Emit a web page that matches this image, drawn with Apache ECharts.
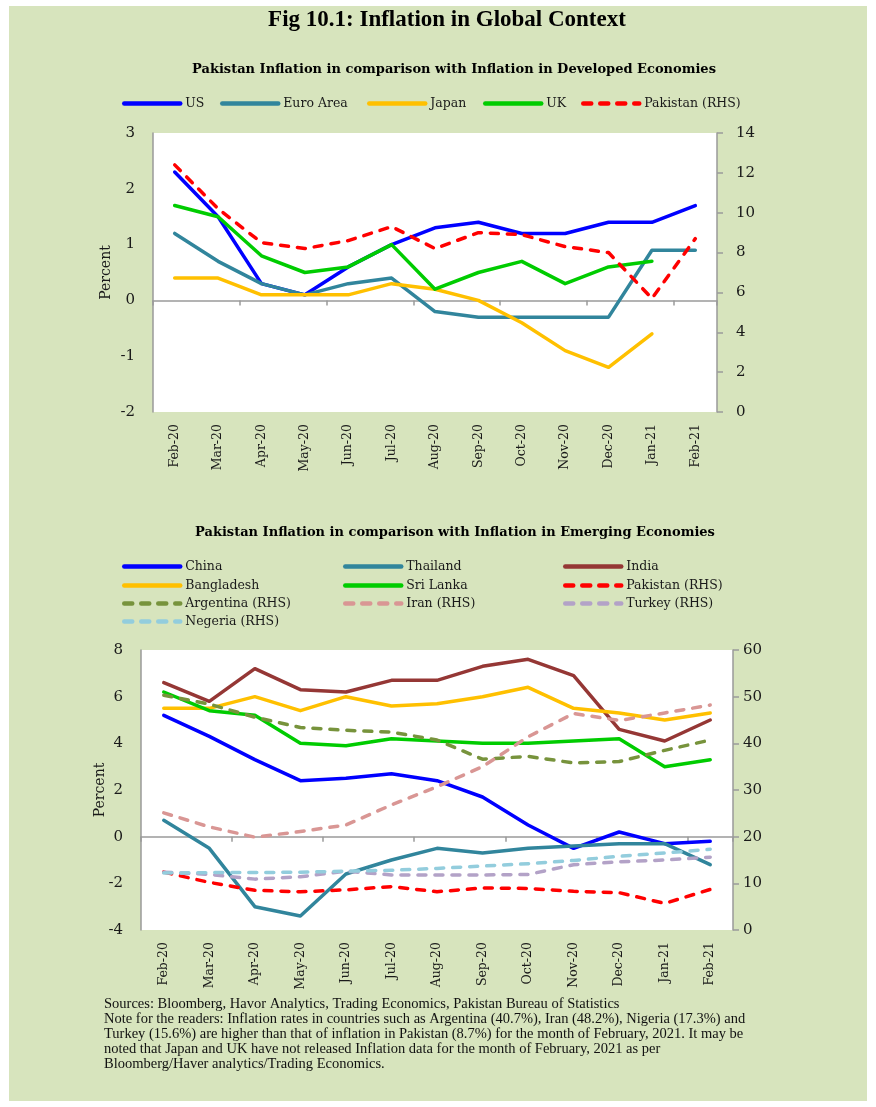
<!DOCTYPE html>
<html><head><meta charset="utf-8">
<script src="https://cdn.jsdelivr.net/npm/echarts@6/dist/echarts.min.js"></script>
<style>
html,body{margin:0;padding:0;background:#fff;}
#bg{position:absolute;left:9px;top:6px;width:858px;height:1095px;background:#d7e4bd;}
#chart{position:absolute;left:0;top:0;width:876px;height:1107px;}
</style></head>
<body><div id="bg"></div><div id="chart"></div>
<script>
// ---- categories ----
const months = ['Feb-20','Mar-20','Apr-20','May-20','Jun-20','Jul-20','Aug-20','Sep-20','Oct-20','Nov-20','Dec-20','Jan-21','Feb-21'];

// ---- developed economies (percent) ----
const us       = [2.3, 1.5, 0.3, 0.1, 0.6, 1.0, 1.3, 1.4, 1.2, 1.2, 1.4, 1.4, 1.7];
const euroArea = [1.2, 0.7, 0.3, 0.1, 0.3, 0.4, -0.2, -0.3, -0.3, -0.3, -0.3, 0.9, 0.9];
const japan    = [0.4, 0.4, 0.1, 0.1, 0.1, 0.3, 0.2, 0.0, -0.4, -0.9, -1.2, -0.6, null];
const uk       = [1.7, 1.5, 0.8, 0.5, 0.6, 1.0, 0.2, 0.5, 0.7, 0.3, 0.6, 0.7, null];
const pakistan = [12.4, 10.2, 8.5, 8.2, 8.6, 9.3, 8.2, 9.0, 8.9, 8.3, 8.0, 5.7, 8.7];

// ---- emerging economies (percent) ----
const china      = [5.2, 4.3, 3.3, 2.4, 2.5, 2.7, 2.4, 1.7, 0.5, -0.5, 0.2, -0.3, -0.2];
const thailand   = [0.7, -0.5, -3.0, -3.4, -1.6, -1.0, -0.5, -0.7, -0.5, -0.4, -0.3, -0.3, -1.2];
const india      = [6.6, 5.8, 7.2, 6.3, 6.2, 6.7, 6.7, 7.3, 7.6, 6.9, 4.6, 4.1, 5.0];
const bangladesh = [5.5, 5.5, 6.0, 5.4, 6.0, 5.6, 5.7, 6.0, 6.4, 5.5, 5.3, 5.0, 5.3];
const sriLanka   = [6.2, 5.4, 5.2, 4.0, 3.9, 4.2, 4.1, 4.0, 4.0, 4.1, 4.2, 3.0, 3.3];
const argentina  = [50.3, 48.4, 45.6, 43.4, 42.8, 42.4, 40.7, 36.6, 37.2, 35.8, 36.1, 38.5, 40.7];
const iran       = [25.1, 22.1, 19.9, 21.1, 22.5, 26.8, 30.7, 35.0, 41.4, 46.4, 44.9, 46.5, 48.2];
const turkey     = [12.4, 11.9, 10.9, 11.4, 12.6, 11.8, 11.8, 11.8, 11.9, 14.0, 14.6, 15.0, 15.6];
const nigeria    = [12.2, 12.3, 12.3, 12.4, 12.6, 12.8, 13.2, 13.7, 14.2, 14.9, 15.8, 16.5, 17.3];

// ---- texts ----
const mainTitle = 'Fig 10.1: Inflation in Global Context';
const subTitle1 = 'Pakistan Inflation in comparison with Inflation in Developed Economies';
const subTitle2 = 'Pakistan Inflation in comparison with Inflation in Emerging Economies';
const footLines = [
  'Sources: Bloomberg, Havor Analytics, Trading Economics, Pakistan Bureau of Statistics',
  'Note for the readers: Inflation rates in countries such as Argentina (40.7%), Iran (48.2%), Nigeria (17.3%) and',
  'Turkey (15.6%) are higher than that of inflation in Pakistan (8.7%) for the month of February, 2021. It may be',
  'noted that Japan and UK have not released Inflation data for the month of February, 2021 as per',
  'Bloomberg/Haver analytics/Trading Economics.'
];

const SERIF = 'DejaVu Serif';
const AX = '#9a9a9a';
const TXT = '#1a1a1a';

function solid(name, data, color, xi, yi) {
  return {name, type:'line', data, xAxisIndex:xi, yAxisIndex:yi, symbol:'none', connectNulls:false,
    lineStyle:{color, width:3.5, join:'round', cap:'round'}, itemStyle:{color}};
}
function dashed(name, data, color, xi, yi) {
  return {name, type:'line', data, xAxisIndex:xi, yAxisIndex:yi, symbol:'none', connectNulls:false,
    lineStyle:{color, width:3.5, type:[8,9], cap:'round', join:'round'}, itemStyle:{color}};
}
function leg(name, x, y) {
  return {left:x, top:y-7, data:[name], itemWidth:56, itemHeight:14, padding:0, selectedMode:false,
    itemStyle:{opacity:0}, lineStyle:{width:4.5},
    textStyle:{fontFamily:SERIF, fontSize:12.5, color:TXT}};
}
function catAxes(gi, labelMargin, zeroIdx) {
  return [
    {gridIndex:gi, type:'category', data:months, boundaryGap:true, position:'bottom',
     axisLine:{show:false, onZero:false}, axisTick:{show:false},
     axisLabel:{rotate:90, margin:labelMargin, fontFamily:SERIF, fontSize:12.5, color:TXT}},
    {gridIndex:gi, type:'category', data:months, boundaryGap:true, position:'bottom',
     axisLine:{show:true, onZero:true, onZeroAxisIndex:zeroIdx, lineStyle:{color:AX, width:1.5}},
     axisTick:{show:true, length:5, inside:false, lineStyle:{color:AX, width:1.5}},
     axisLabel:{show:false}}
  ];
}
function valAxis(gi, pos, min, max, interval, margin, ticks, name, nameGap) {
  const a = {gridIndex:gi, type:'value', position:pos, min, max, interval,
    axisLine:{show:true, lineStyle:{color:AX, width:1.5}},
    axisTick:{show:ticks, length:6, lineStyle:{color:AX, width:1.5}},
    splitLine:{show:false},
    axisLabel:{margin, fontFamily:SERIF, fontSize:15, color:TXT}};
  if (name) {
    a.name = name; a.nameLocation = 'middle'; a.nameRotate = 90; a.nameGap = nameGap;
    a.nameMoveOverlap = false;
    a.nameTextStyle = {fontFamily:SERIF, fontSize:14, color:TXT};
  }
  return a;
}

const graphics = [
  {type:'text', x:447, y:20, style:{text:mainTitle, textAlign:'center', textVerticalAlign:'middle',
    font:'bold 23px "Liberation Serif"', fill:'#000'}},
  {type:'text', x:454, y:70, style:{text:subTitle1, textAlign:'center', textVerticalAlign:'middle',
    font:'bold 13px "DejaVu Serif"', fill:'#000'}},
  {type:'text', x:455, y:533, style:{text:subTitle2, textAlign:'center', textVerticalAlign:'middle',
    font:'bold 13px "DejaVu Serif"', fill:'#000'}}
];
footLines.forEach((t, i) => graphics.push({type:'text', x:104, y:1004 + i*15, style:{text:t,
  textAlign:'left', textVerticalAlign:'middle', font:'14.5px "Liberation Serif"', fill:'#111'}}));

const option = {
  animation:false,
  backgroundColor:'transparent',
  graphic:graphics,
  grid:[
    {left:153, top:133, width:564, height:279, show:true, backgroundColor:'#fff', borderWidth:0, containLabel:false},
    {left:141, top:650, width:592, height:280, show:true, backgroundColor:'#fff', borderWidth:0, containLabel:false}
  ],
  legend:[
    leg('US',122,104), leg('Euro Area',220,104), leg('Japan',367,104), leg('UK',483,104), leg('Pakistan (RHS)',581,104),
    leg('China',122,567), leg('Thailand',343,567), leg('India',563,567),
    leg('Bangladesh',122,586), leg('Sri Lanka',343,586), leg('Pakistan (RHS)',563,586),
    leg('Argentina (RHS)',122,604), leg('Iran (RHS)',343,604), leg('Turkey (RHS)',563,604),
    leg('Negeria (RHS)',122,622)
  ],
  xAxis:[...catAxes(0, 12, 0), ...catAxes(1, 12, 2)],
  yAxis:[
    valAxis(0,'left',-2,3,1,18,false,'Percent',40),
    valAxis(0,'right',0,14,2,19,true),
    valAxis(1,'left',-4,8,2,18,false,'Percent',34),
    valAxis(1,'right',0,60,10,10,true)
  ],
  series:[
    solid('US', us, '#0000ff', 0, 0),
    solid('Euro Area', euroArea, '#31859c', 0, 0),
    solid('Japan', japan, '#ffc000', 0, 0),
    solid('UK', uk, '#00cc00', 0, 0),
    dashed('Pakistan (RHS)', pakistan, '#ff0000', 0, 1),

    solid('China', china, '#0000ff', 2, 2),
    solid('Thailand', thailand, '#31859c', 2, 2),
    solid('India', india, '#953735', 2, 2),
    solid('Bangladesh', bangladesh, '#ffc000', 2, 2),
    solid('Sri Lanka', sriLanka, '#00cc00', 2, 2),
    dashed('Pakistan (RHS)', pakistan, '#ff0000', 2, 3),
    dashed('Argentina (RHS)', argentina, '#77933c', 2, 3),
    dashed('Iran (RHS)', iran, '#d99694', 2, 3),
    dashed('Turkey (RHS)', turkey, '#b3a2c7', 2, 3),
    dashed('Negeria (RHS)', nigeria, '#93cddd', 2, 3)
  ]
};
echarts.init(document.getElementById('chart'), null, {renderer:'canvas'}).setOption(option);
</script></body></html>
